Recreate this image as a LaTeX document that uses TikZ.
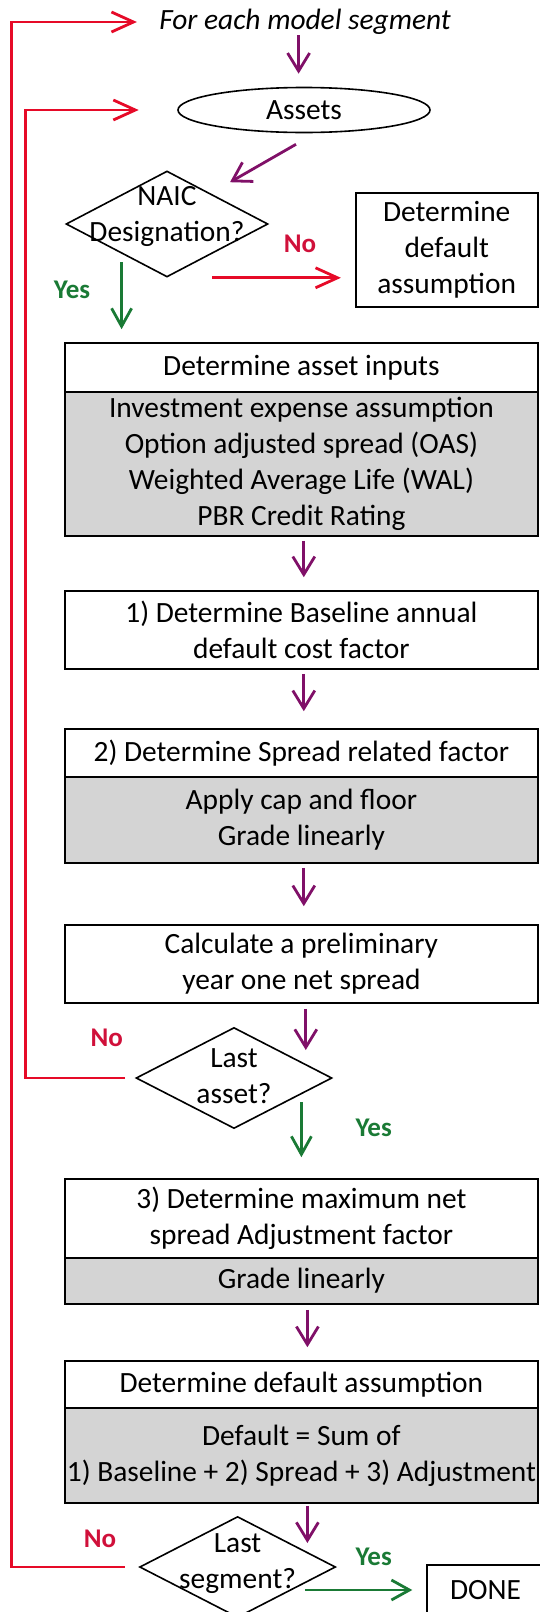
\documentclass[tikz,border=0pt]{standalone}
\usepackage{fontspec}
\setmainfont{Carlito}
\usetikzlibrary{arrows.meta,shapes.geometric}
\definecolor{flowpurple}{RGB}{128,16,104}
\definecolor{loopred}{RGB}{230,10,40}
\definecolor{yesgreen}{RGB}{26,122,53}
\definecolor{nored}{RGB}{208,16,58}
\definecolor{boxgray}{RGB}{212,212,212}
\begin{document}
\begin{tikzpicture}[x=0.5pt,y=-0.5pt,
    font=\fontsize{14.7}{18}\selectfont,
    box/.style={draw,line width=0.8pt,minimum width=236.5pt,align=center,inner sep=0pt},
    graybox/.style={box,fill=boxgray},
    decision/.style={draw,diamond,line width=0.8pt,inner sep=0pt,minimum width=98pt,minimum height=50.5pt},
    flow/.style={draw=flowpurple,line width=1.4pt,-{Straight Barb[length=9pt,width=11pt]}},
    yesflow/.style={draw=yesgreen,line width=1.4pt,-{Straight Barb[length=9pt,width=10pt]}},
    noflow/.style={draw=loopred,line width=1.4pt,-{Straight Barb[length=11pt,width=10pt]}},
    yeslabel/.style={text=yesgreen,font=\fontsize{13.5}{16}\selectfont\bfseries},
    nolabel/.style={text=nored,font=\fontsize{13.5}{16}\selectfont\bfseries}]
    \useasboundingbox (0,0) rectangle (540,1612);
    \clip (0,0) rectangle (540,1612);

    \node[font=\fontsize{14.7}{18}\selectfont\itshape,inner sep=0pt] (seg) at (305,22) {For each model segment};
    \node[draw,ellipse,line width=0.8pt,minimum width=126pt,minimum height=22.5pt,inner sep=0pt] (assets) at (304,110) {Assets};
    \node[decision,minimum width=101pt,minimum height=53pt,label={[align=center,yshift=4pt]center:NAIC\\Designation?}] (naic) at (167,224) {};
    \node[draw,line width=0.8pt,minimum width=91pt,minimum height=57pt,align=center,inner sep=0pt] (defbox) at (446.7,250) {Determine\\default\\assumption};

    \node[box,minimum height=24.5pt] (inputsh) at (301.4,367.5) {Determine asset inputs};
    \node[graybox,minimum height=72pt] (inputsb) at (301.4,464) {Investment expense assumption\\Option adjusted spread (OAS)\\Weighted Average Life (WAL)\\PBR Credit Rating};
    \node[box,minimum height=39pt] (base) at (301.4,630) {1) Determine Baseline annual\\default cost factor};
    \node[box,minimum height=24pt] (spreadh) at (301.4,753) {2) Determine Spread related factor};
    \node[graybox,minimum height=43pt] (spreadb) at (301.4,820) {Apply cap and floor\\Grade linearly};
    \node[box,minimum height=39pt] (calc) at (301.4,964) {Calculate a preliminary\\year one net spread};
    \node[decision,label={[align=center,yshift=1pt]center:Last\\asset?}] (lastasset) at (234,1078) {};
    \node[box,minimum height=39.5pt] (adjh) at (301.4,1218.5) {3) Determine maximum net\\spread Adjustment factor};
    \node[graybox,minimum height=23pt] (adjb) at (301.4,1281) {Grade linearly};
    \node[box,minimum height=23.5pt] (defh) at (301.4,1384.5) {Determine default assumption};
    \node[graybox,minimum height=47.5pt] (defb) at (301.4,1455.5) {Default = Sum of\\1) Baseline + 2) Spread + 3) Adjustment};
    \node[decision,label={[align=center,yshift=1.5pt]center:Last\\segment?}] (lastseg) at (237.6,1567) {};
    \node[draw,line width=0.8pt,minimum width=58.5pt,minimum height=25pt] (done) at (485.6,1590) {DONE};

    \node[yeslabel] (yes1) at (72,290) {Yes};
    \node[nolabel] (no1) at (300,244) {No};
    \node[nolabel] (no2) at (106.8,1038) {No};
    \node[yeslabel] (yes2) at (373.7,1128) {Yes};
    \node[nolabel] (no3) at (100,1539) {No};
    \node[yeslabel] (yes3) at (373.7,1557) {Yes};

    \draw[flow,shorten >=6.5pt] ([xshift=-3.2pt]seg.south) -- ([xshift=-3.2pt]seg.south |- assets.north);
    \draw[flow] ([shift={(-4pt,-5.5pt)}]assets.south) -- ([shift={(31.5pt,-6pt)}]naic.north);
    \draw[yesflow,shorten <=19pt,shorten >=6.5pt] ([xshift=-22.7pt]naic.center) -- ([xshift=-22.7pt]naic.center |- inputsh.north);
    \draw[noflow,shorten >=7pt] ([xshift=22.5pt]naic.south) -- (naic.south -| defbox.west);
    \draw[flow,shorten <=2pt,shorten >=6.5pt] ([xshift=1.2pt]inputsb.south) -- ([xshift=1.2pt]base.north);
    \draw[flow,shorten <=2pt,shorten >=8.5pt] ([xshift=1.2pt]base.south) -- ([xshift=1.2pt]spreadh.north);
    \draw[flow,shorten <=2pt,shorten >=9pt] ([xshift=1.2pt]spreadb.south) -- ([xshift=1.2pt]calc.north);
    \draw[flow,shorten <=2.5pt,shorten >=14pt] ([xshift=2.2pt]calc.south) -- ([xshift=2.2pt]calc.south |- lastasset.center);
    \draw[yesflow,shorten <=12pt,shorten >=10.5pt] (adjh.north |- lastasset.center) -- (adjh.north);
    \draw[flow,shorten <=2.5pt,shorten >=6.5pt] ([xshift=3pt]adjb.south) -- ([xshift=3pt]defh.north);
    \draw[flow,shorten <=1pt,shorten >=12pt] ([xshift=3pt]defb.south) -- ([xshift=3pt]defb.south |- lastseg.center);
    \draw[yesflow,shorten >=7pt] ([shift={(33.6pt,-11.5pt)}]lastseg.center) -- (done.west);

    \draw[noflow,shorten >=19.25pt] ([xshift=-5pt]lastasset.west) -- ++(-50pt,0) |- (assets.west);
    \draw[noflow,shorten >=11pt] ([xshift=-7pt]lastseg.west) -- ++(-56.5pt,0) |- (seg.west);
\end{tikzpicture}
\end{document}
